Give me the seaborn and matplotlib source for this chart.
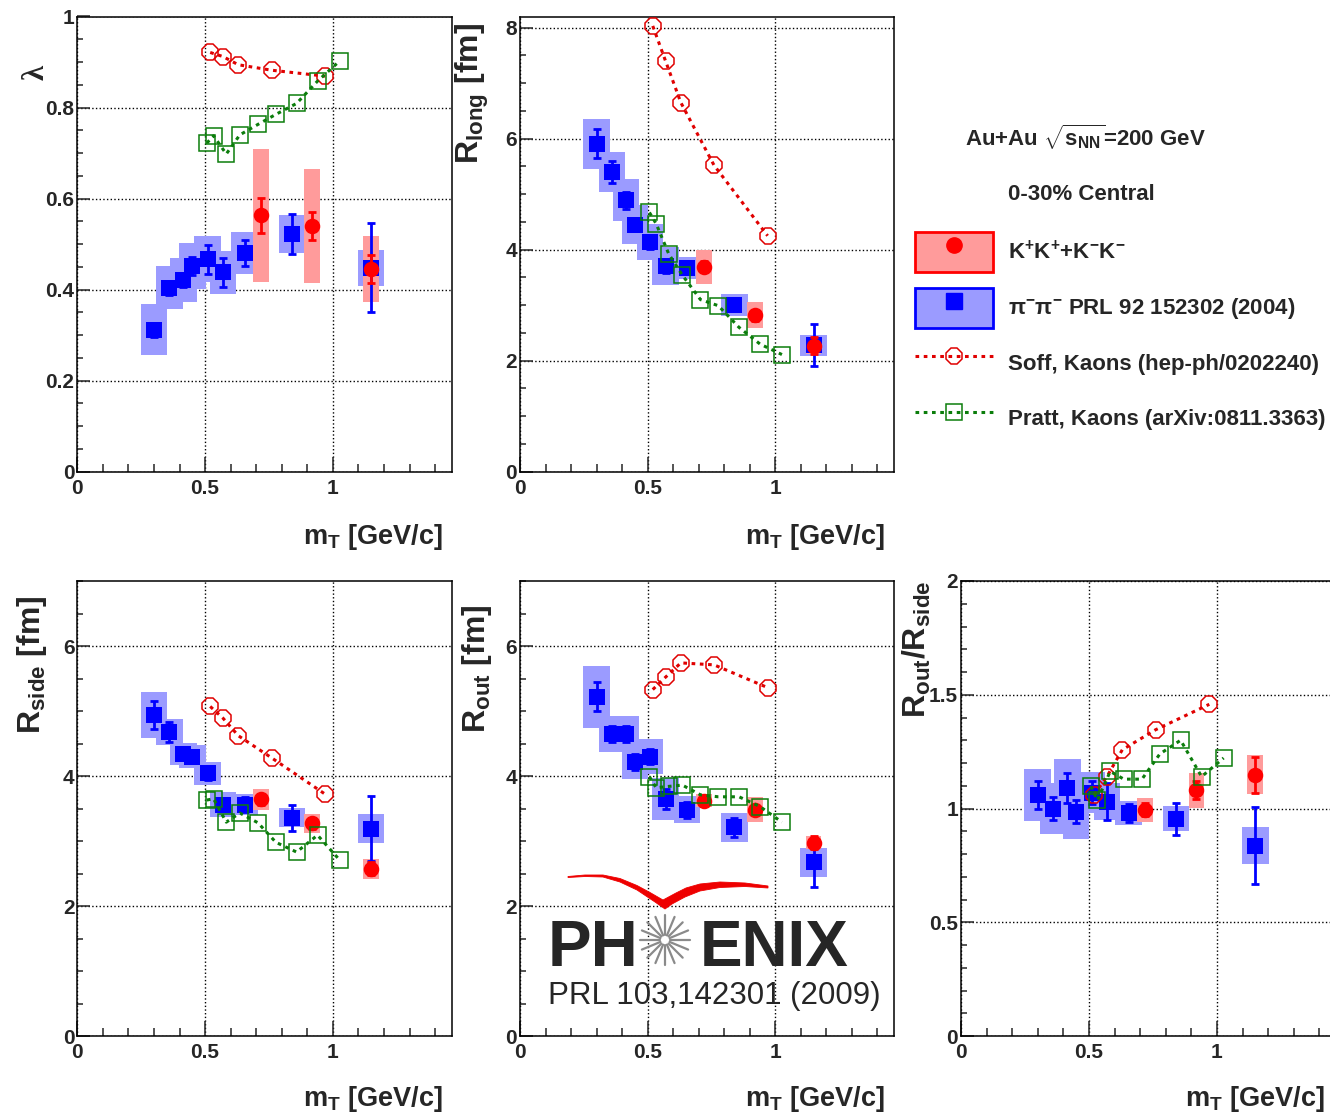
import matplotlib
matplotlib.use('Agg')
import numpy as np
import matplotlib.pyplot as plt
import seaborn as sns
from matplotlib import font_manager
from matplotlib.patches import Patch, Polygon, Circle
from matplotlib.lines import Line2D
from matplotlib.transforms import Affine2D
from matplotlib.ticker import MultipleLocator, FuncFormatter

# pi-pi- (PRL 92 152302)
pi_mt = [0.30, 0.36, 0.415, 0.45, 0.51, 0.57, 0.655, 0.84, 1.15]
pi_lam = [0.312, 0.404, 0.421, 0.452, 0.467, 0.438, 0.481, 0.522, 0.448]
pi_lam_stat = [0.015, 0.015, 0.015, 0.02, 0.032, 0.032, 0.029, 0.044, 0.098]
pi_lam_sys = [0.056, 0.047, 0.049, 0.05, 0.05, 0.047, 0.046, 0.042, 0.04]
pi_rlong = [5.91, 5.40, 4.89, 4.45, 4.14, 3.70, 3.67, 3.00, 2.28]
pi_rlong_stat = [0.26, 0.2, 0.15, 0.12, 0.12, 0.12, 0.1, 0.1, 0.38]
pi_rlong_sys = [0.45, 0.36, 0.38, 0.35, 0.33, 0.34, 0.2, 0.2, 0.19]
pi_rside = [4.94, 4.68, 4.34, 4.30, 4.04, 3.56, 3.56, 3.36, 3.19]
pi_rside_stat = [0.22, 0.15, 0.1, 0.1, 0.1, 0.1, 0.12, 0.2, 0.5]
pi_rside_sys = [0.35, 0.2, 0.17, 0.17, 0.18, 0.19, 0.16, 0.15, 0.22]
pi_rout = [5.22, 4.65, 4.65, 4.22, 4.30, 3.65, 3.48, 3.21, 2.67]
pi_rout_stat = [0.22, 0.12, 0.12, 0.12, 0.12, 0.15, 0.12, 0.15, 0.38]
pi_rout_sys = [0.48, 0.28, 0.28, 0.27, 0.27, 0.32, 0.21, 0.22, 0.22]
pi_ratio = [1.06, 1.0, 1.09, 0.986, 1.07, 1.03, 0.981, 0.955, 0.837]
pi_ratio_stat = [0.06, 0.05, 0.066, 0.05, 0.05, 0.08, 0.04, 0.07, 0.17]
pi_ratio_sys = [0.115, 0.114, 0.128, 0.12, 0.09, 0.08, 0.054, 0.054, 0.08]

# K+K+ + K-K-
ka_mt = [0.72, 0.92, 1.15]
ka_lam = [0.563, 0.540, 0.445]
ka_lam_stat = [0.038, 0.03, 0.03]
ka_lam_sys = [0.147, 0.125, 0.072]
ka_rlong = [3.69, 2.82, 2.27]
ka_rlong_stat = [0.1, 0.1, 0.15]
ka_rlong_sys = [0.31, 0.23, 0.15]
ka_rside = [3.64, 3.27, 2.57]
ka_rside_stat = [0.08, 0.08, 0.1]
ka_rside_sys = [0.16, 0.14, 0.15]
ka_rout = [3.62, 3.48, 2.97]
ka_rout_stat = [0.08, 0.08, 0.1]
ka_rout_sys = [0.1, 0.19, 0.1]
ka_ratio = [0.995, 1.08, 1.148]
ka_ratio_stat = [0.03, 0.04, 0.08]
ka_ratio_sys = [0.053, 0.078, 0.085]

# Soff, Kaons (hep-ph/0202240)
soff_mt = [0.52, 0.57, 0.63, 0.76, 0.97]
soff_lam = [0.921, 0.912, 0.894, 0.882, 0.869]
soff_rlong = [8.03, 7.40, 6.65, 5.52, 4.25]
soff_rside = [5.07, 4.89, 4.62, 4.28, 3.72]
soff_rout = [5.33, 5.52, 5.74, 5.71, 5.36]
soff_ratio = [1.06, 1.14, 1.258, 1.346, 1.458]

# Pratt, Kaons (arXiv:0811.3363)
pratt_mt = [0.507, 0.533, 0.583, 0.636, 0.707, 0.777, 0.858, 0.94, 1.026]
pratt_lam = [0.722, 0.738, 0.698, 0.740, 0.763, 0.785, 0.809, 0.858, 0.902]
pratt_rlong = [4.67, 4.47, 3.92, 3.54, 3.10, 2.99, 2.60, 2.30, 2.11]
pratt_rside = [3.63, 3.65, 3.29, 3.43, 3.28, 2.98, 2.83, 3.09, 2.71]
pratt_rout = [3.99, 3.82, 3.84, 3.86, 3.71, 3.68, 3.68, 3.53, 3.29]
pratt_ratio = [1.098, 1.036, 1.163, 1.129, 1.129, 1.24, 1.30, 1.14, 1.222]

legend_labels = ['K$^{+}$K$^{+}$+K$^{-}$K$^{-}$',
                 'π$^{-}$π$^{-}$ PRL 92 152302 (2004)',
                 'Soff, Kaons (hep-ph/0202240)',
                 'Pratt, Kaons (arXiv:0811.3363)']

PI, PI_BOX = '#0000ff', '#9b9bff'
KA, KA_BOX = '#ff0000', '#ff9b9b'
SOFF, PRATT = '#e00000', '#0b7d0b'
DOT = (0, (1.2, 1.5))
W, H = 1330, 1114

sns.set_style('ticks')
names = {f.name for f in font_manager.fontManager.ttflist}
narrow = 'Liberation Sans Narrow' in names
TFONT = 'Liberation Sans Narrow' if narrow else 'Liberation Sans'
title_size = 24 if narrow else 19.5
ylab_size = 28 if narrow else 23
leg_size = 19 if narrow else 16
plt.rcParams['font.family'] = ['Liberation Sans', 'DejaVu Sans']
plt.rcParams['font.weight'] = 'bold'
plt.rcParams['mathtext.fontset'] = 'custom'
for k in ['rm', 'it', 'bf', 'sf']:
    plt.rcParams['mathtext.' + k] = TFONT + ':bold'

fig = plt.figure(figsize=(W / 100, H / 100), dpi=100)


def add_axes(left, top, right, bottom):
    return fig.add_axes([left / W, 1 - bottom / H, (right - left) / W, (bottom - top) / H])


def panel(ax, pi_y, pi_st, pi_sy, ka_y, ka_st, ka_sy, soff_y, pratt_y, ymax, major, minor):
    ax.bar(pi_mt, [2 * s for s in pi_sy], bottom=[y - s for y, s in zip(pi_y, pi_sy)],
           width=0.104, color=PI_BOX, linewidth=0, zorder=2)
    ax.bar(ka_mt, [2 * s for s in ka_sy], bottom=[y - s for y, s in zip(ka_y, ka_sy)],
           width=0.062, color=KA_BOX, linewidth=0, zorder=2.1)
    ax.errorbar(pi_mt, pi_y, yerr=pi_st, fmt='none', ecolor=PI, elinewidth=2,
                capsize=3, capthick=2, zorder=3)
    sns.scatterplot(x=pi_mt, y=pi_y, marker='s', s=125, color=PI, linewidth=0, ax=ax, zorder=3.1)
    ax.errorbar(ka_mt, ka_y, yerr=ka_st, fmt='none', ecolor=KA, elinewidth=2,
                capsize=3, capthick=2, zorder=3.2)
    sns.scatterplot(x=ka_mt, y=ka_y, marker='o', s=125, color=KA, linewidth=0, ax=ax, zorder=3.3)
    sns.lineplot(x=soff_mt, y=soff_y, sort=False, estimator=None, ax=ax, color=SOFF,
                 linestyle=DOT, linewidth=2.2, marker='8', markersize=12,
                 markerfacecolor='none', markeredgecolor=SOFF, markeredgewidth=1.1, zorder=4)
    sns.lineplot(x=pratt_mt, y=pratt_y, sort=False, estimator=None, ax=ax, color=PRATT,
                 linestyle=DOT, linewidth=2.2, marker='s', markersize=12,
                 markerfacecolor='none', markeredgecolor=PRATT, markeredgewidth=1.1, zorder=4)

    ax.set_xlim(0, 1.465)
    ax.set_ylim(0, ymax)
    ax.xaxis.set_major_locator(MultipleLocator(0.5))
    ax.xaxis.set_minor_locator(MultipleLocator(0.1))
    ax.yaxis.set_major_locator(MultipleLocator(major))
    ax.yaxis.set_minor_locator(MultipleLocator(minor))
    fmt = FuncFormatter(lambda v, p: f'{v:g}')
    ax.xaxis.set_major_formatter(fmt)
    ax.yaxis.set_major_formatter(fmt)
    ax.tick_params(axis='x', which='major', direction='in', length=11, width=1.1, pad=5, labelsize=15)
    ax.tick_params(axis='x', which='minor', direction='in', length=5.5, width=1.1)
    ax.tick_params(axis='y', which='major', direction='in', length=9, width=1.1, pad=2, labelsize=15)
    ax.tick_params(axis='y', which='minor', direction='in', length=4.5, width=1.1)
    for sp in ax.spines.values():
        sp.set_visible(True)
        sp.set_linewidth(1.1)
        sp.set_color('black')
    ax.set_axisbelow(True)
    ax.grid(True, which='major', color='black', linestyle=':', linewidth=1)


def labels(ax, ylab, yx, yy, xx, xy, serif=False):
    ax.set_xlabel('m$_{\\mathrm{T}}$ [GeV/c]', fontsize=title_size, family=TFONT,
                  fontweight='bold', ha='right', va='baseline')
    ax.xaxis.set_label_coords(xx, xy)
    # the y label is anchored at its upper end (ROOT style)
    if serif:
        ax.set_ylabel(ylab, fontsize=22, family='Liberation Serif', fontweight='bold',
                      ha='right', va='center')
    else:
        ax.set_ylabel(ylab, fontsize=ylab_size, family=TFONT, fontweight='bold',
                      ha='right', va='center')
    ax.yaxis.set_label_coords(yx, yy)


ax1 = add_axes(77.3, 16.5, 451.7, 471.7)
panel(ax1, pi_lam, pi_lam_stat, pi_lam_sys, ka_lam, ka_lam_stat, ka_lam_sys,
      soff_lam, pratt_lam, 1.0, 0.2, 0.05)
labels(ax1, 'λ', -0.11, 0.893, 0.977, -0.159, serif=True)

ax2 = add_axes(520, 16.5, 894, 471.7)
panel(ax2, pi_rlong, pi_rlong_stat, pi_rlong_sys, ka_rlong, ka_rlong_stat, ka_rlong_sys,
      soff_rlong, pratt_rlong, 8.2, 2, 0.5)
labels(ax2, 'R$_{\\mathrm{long}}$ [fm]', -0.128, 0.986, 0.976, -0.159)

ax3 = add_axes(77.3, 581, 451.7, 1036)
panel(ax3, pi_rside, pi_rside_stat, pi_rside_sys, ka_rside, ka_rside_stat, ka_rside_sys,
      soff_rside, pratt_rside, 7.0, 2, 0.5)
labels(ax3, 'R$_{\\mathrm{side}}$ [fm]', -0.121, 0.969, 0.977, -0.154)

ax4 = add_axes(520, 581, 894, 1036)
panel(ax4, pi_rout, pi_rout_stat, pi_rout_sys, ka_rout, ka_rout_stat, ka_rout_sys,
      soff_rout, pratt_rout, 7.0, 2, 0.5)
labels(ax4, 'R$_{\\mathrm{out}}$ [fm]', -0.115, 0.949, 0.976, -0.154)

ax5 = add_axes(961, 581, 1336, 1036)
panel(ax5, pi_ratio, pi_ratio_stat, pi_ratio_sys, ka_ratio, ka_ratio_stat, ka_ratio_sys,
      soff_ratio, pratt_ratio, 2.0, 0.5, 0.1)
labels(ax5, 'R$_{\\mathrm{out}}$/R$_{\\mathrm{side}}$', -0.117, 1.0, 0.971, -0.154)

# legend block at the top right
fig.text(965 / W, 1 - 137 / H, 'Au+Au $\\sqrt{s_{\\mathrm{NN}}}$=200 GeV', family=TFONT,
         fontsize=leg_size, fontweight='bold', va='center', ha='left')
fig.text(1008 / W, 1 - 195 / H, '0-30% Central', family=TFONT,
         fontsize=leg_size, fontweight='bold', va='center', ha='left')

fs_px = leg_size * 100 / 72
handles = [
    (Patch(facecolor=KA_BOX, edgecolor=KA, linewidth=2),
     Line2D([], [], marker='o', linestyle='none', color=KA, markersize=11)),
    (Patch(facecolor=PI_BOX, edgecolor=PI, linewidth=2),
     Line2D([], [], marker='s', linestyle='none', color=PI, markersize=11)),
    Line2D([], [], color=SOFF, linestyle=DOT, linewidth=2.2, marker='8', markersize=13,
           markerfacecolor='none', markeredgecolor=SOFF, markeredgewidth=1.1),
    Line2D([], [], color=PRATT, linestyle=DOT, linewidth=2.2, marker='s', markersize=12,
           markerfacecolor='none', markeredgecolor=PRATT, markeredgewidth=1.1),
]
fig.legend(handles, legend_labels, loc='upper left',
           bbox_to_anchor=(915 / W, 1 - 232 / H), bbox_transform=fig.transFigure,
           frameon=False, borderpad=0, borderaxespad=0, numpoints=1,
           handlelength=78 / fs_px, handleheight=(40 / fs_px - 0.245) / 0.65,
           labelspacing=15.5 / fs_px, handletextpad=15 / fs_px,
           prop={'family': TFONT, 'weight': 'bold', 'size': leg_size})

# PHENIX logo, drawn in reference pixel coordinates
px = Affine2D().scale(1 / W, -1 / H).translate(0, 1) + fig.transFigure
swoosh = [(568, 876.5), (585, 875), (603, 875), (620, 878.5), (637, 885.5), (650, 892.5), (663, 900),
          (676, 893), (686, 888), (700, 884), (720, 882), (745, 883), (768, 886),
          (768, 888), (745, 886.5), (720, 887.5), (700, 891), (685, 897), (672, 904), (665, 909),
          (655, 902), (637, 890), (620, 882), (603, 877), (585, 876.5), (568, 877.5)]
fig.add_artist(Polygon(swoosh, closed=True, transform=px, facecolor='#ee0000',
                       edgecolor='#ee0000', linewidth=0.6))
for ang in np.arange(16) * np.pi / 8:
    fig.add_artist(Line2D([665 + 5 * np.cos(ang), 665 + 25 * np.cos(ang)],
                          [940 + 5 * np.sin(ang), 940 + 25 * np.sin(ang)],
                          transform=px, color='#8a8a8a', linewidth=1.6))
fig.add_artist(Circle((665, 940), 4.5, transform=px, facecolor='white', edgecolor='none'))
fig.text(548 / W, 1 - 966 / H, 'PH', family='Liberation Sans', fontsize=47,
         fontweight='bold', ha='left', va='baseline')
fig.text(700 / W, 1 - 966 / H, 'ENIX', family='Liberation Sans', fontsize=46,
         fontweight='bold', ha='left', va='baseline')
fig.text(548 / W, 1 - 1004 / H, 'PRL 103,142301 (2009)', family='Liberation Sans',
         fontsize=22.5, fontweight='normal', ha='left', va='baseline')

fig.savefig('out.png', dpi=100)
